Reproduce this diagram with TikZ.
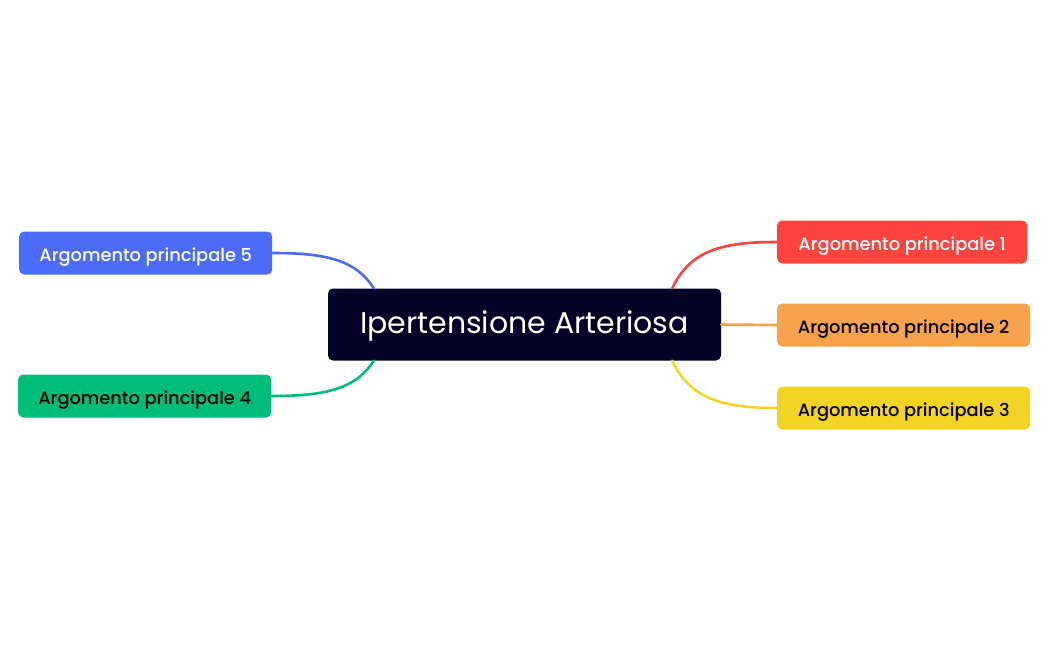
\documentclass[tikz,border=0pt]{standalone}
\usepackage{fontspec}
\setmainfont{Poppins}[UprightFont={* Medium}]
\newfontfamily\titlefont{Poppins}
\usetikzlibrary{calc}
\definecolor{cnavy}{HTML}{020326}
\definecolor{cred}{HTML}{FB443E}
\definecolor{corange}{HTML}{F7A24C}
\definecolor{cyellow}{HTML}{F2D424}
\definecolor{cblue}{HTML}{4B6BF8}
\definecolor{cgreen}{HTML}{00BC79}
\tikzset{
  topic/.style={rounded corners=5pt, minimum height=43pt, inner sep=0pt, text height=18pt, text depth=2pt, font=\fontsize{17.8}{20}\selectfont, anchor=west},
  link/.style={line width=2.6pt, line cap=round},
}
\begin{document}
\begin{tikzpicture}[x=1pt,y=-1pt]
\useasboundingbox (0,0) rectangle (1048,650);
\node[fill=cnavy, rounded corners=5pt, minimum width=393pt, minimum height=72pt, inner sep=0pt, text=white, text height=22pt, text depth=4.4pt, font=\titlefont\fontsize{30}{34}\selectfont] (center) at (524.5,324.5) {Ipertensione Arteriosa};
\node[topic, fill=cred, text=white, minimum width=250pt] (t1) at (777,242) {Argomento principale 1};
\node[topic, fill=corange, text=black, minimum width=253pt] (t2) at (777,325) {Argomento principale 2};
\node[topic, fill=cyellow, text=black, minimum width=253pt] (t3) at (777,408) {Argomento principale 3};
\node[topic, fill=cblue, text=white, minimum width=253pt] (t5) at (19,253) {Argomento principale 5};
\node[topic, fill=cgreen, text=black, minimum width=253pt] (t4) at (18,396) {Argomento principale 4};
\coordinate (c1) at ($(center.north east)+(-49,0)$);
\coordinate (c3) at ($(center.south east)+(-49,0)$);
\coordinate (c5) at ($(center.north west)+(46,0)$);
\coordinate (c4) at ($(center.south west)+(46,0)$);
\draw[link, cred] (c1) .. controls ($(c1)+(18,-38)$) and ($(t1.west)+(-55,0)$) .. (t1.west);
\draw[link, corange] (center.east) -- (t2.west);
\draw[link, cyellow] (c3) .. controls ($(c3)+(18,38)$) and ($(t3.west)+(-55,0)$) .. (t3.west);
\draw[link, cblue] (c5) .. controls ($(c5)+(-18,-28)$) and ($(t5.east)+(55,0)$) .. (t5.east);
\draw[link, cgreen] (c4) .. controls ($(c4)+(-18,28)$) and ($(t4.east)+(55,0)$) .. (t4.east);
\end{tikzpicture}
\end{document}
